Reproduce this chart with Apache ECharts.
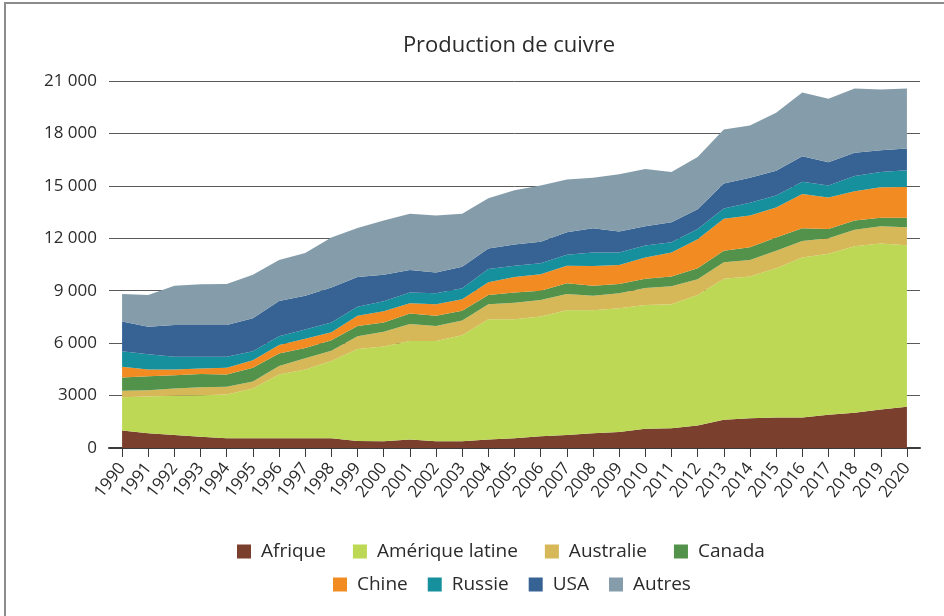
<!DOCTYPE html>
<html>
<head>
<meta charset="utf-8">
<script src="https://cdn.jsdelivr.net/npm/echarts@6/dist/echarts.min.js"></script>
<style>
  html, body { margin: 0; padding: 0; background: #fff; overflow: hidden; }
  .frame { position: absolute; left: 4px; top: 2px; width: 1000px; height: 700px;
           border-left: 2px solid #8c8c8c; border-top: 2px solid #8c8c8c; }
  #chart { position: absolute; left: 0; top: 0; width: 944px; height: 616px; }
</style>
</head>
<body>
<div class="frame"></div>
<div id="chart"></div>
<script>
// années
var years = ['1990', '1991', '1992', '1993', '1994', '1995', '1996', '1997', '1998', '1999',
             '2000', '2001', '2002', '2003', '2004', '2005', '2006', '2007', '2008', '2009',
             '2010', '2011', '2012', '2013', '2014', '2015', '2016', '2017', '2018', '2019', '2020'];

// production par région (milliers de tonnes)
var afrique = [1000, 850, 750, 640, 560, 560, 560, 560, 560, 400,
               390, 480, 390, 390, 480, 560, 670, 750, 850, 920,
               1100, 1130, 1290, 1620, 1700, 1740, 1740, 1900, 2020, 2210, 2360];
var ameriqueLatine = [1900, 2100, 2240, 2380, 2500, 2850, 3640, 3930, 4420, 5270,
                      5420, 5640, 5730, 6060, 6890, 6810, 6860, 7130, 7030, 7080,
                      7080, 7090, 7460, 8070, 8120, 8540, 9160, 9220, 9530, 9490, 9240];
var australie = [380, 360, 420, 450, 450, 390, 490, 650, 590, 720,
                 840, 980, 860, 840, 850, 940, 940, 930, 830, 860,
                 980, 1030, 900, 940, 940, 1010, 940, 880, 940, 990, 1030];
var canada = [760, 790, 750, 770, 700, 790, 720, 580, 590, 590,
              530, 590, 590, 570, 530, 590, 530, 620, 580, 530,
              530, 570, 630, 660, 730, 750, 730, 530, 530, 490, 550];
var chine = [610, 390, 330, 310, 380, 430, 490, 530, 470, 590,
             640, 590, 650, 650, 740, 880, 940, 1000, 1120, 1080,
             1210, 1370, 1660, 1830, 1820, 1720, 1960, 1810, 1670, 1740, 1760];
var russie = [880, 880, 730, 670, 630, 510, 490, 530, 550, 510,
              570, 620, 640, 630, 750, 650, 630, 630, 780, 720,
              690, 590, 590, 580, 730, 690, 710, 680, 880, 880, 960];
var usa = [1710, 1570, 1820, 1820, 1820, 1900, 2020, 1930, 2010, 1700,
           1530, 1290, 1180, 1230, 1170, 1220, 1230, 1280, 1380, 1200,
           1100, 1140, 1130, 1440, 1430, 1410, 1450, 1330, 1330, 1240, 1240];
var autres = [1570, 1810, 2250, 2330, 2350, 2490, 2350, 2450, 2850, 2810,
              3100, 3220, 3270, 3040, 2880, 3100, 3220, 3030, 2900, 3270,
              3270, 2880, 2990, 3080, 2980, 3330, 3650, 3630, 3670, 3470, 3430];

var yTicks = { 0: '0', 3000: '3000', 6000: '6 000', 9000: '9 000', 12000: '12 000',
               15000: '15 000', 18000: '18 000', 21000: '21 000' };

var seriesDefs = [
  { name: 'Afrique', data: afrique, color: '#7a3f2d' },
  { name: 'Amérique latine', data: ameriqueLatine, color: '#bdd855' },
  { name: 'Australie', data: australie, color: '#d6b858' },
  { name: 'Canada', data: canada, color: '#52924b' },
  { name: 'Chine', data: chine, color: '#f28c22' },
  { name: 'Russie', data: russie, color: '#15909c' },
  { name: 'USA', data: usa, color: '#366393' },
  { name: 'Autres', data: autres, color: '#859daa' }
];

var font = '"Open Sans", sans-serif';
var legendText = { fontFamily: font, fontSize: 19, color: '#2b2b2b', padding: [0, 0, 0, 5] };
var myChart = echarts.init(document.getElementById('chart'));

myChart.setOption({
  animation: false,
  color: seriesDefs.map(function (s) { return s.color; }),
  title: {
    text: 'Production de cuivre',
    left: 504,
    top: 30,
    textAlign: 'center',
    textStyle: { fontFamily: font, fontSize: 22, fontWeight: 'normal', color: '#2b2b2b' }
  },
  legend: [{
    data: ['Afrique', 'Amérique latine', 'Australie', 'Canada'],
    left: 232,
    top: 537,
    icon: 'rect',
    itemWidth: 14,
    itemHeight: 14,
    itemGap: 27,
    textStyle: legendText
  }, {
    data: ['Chine', 'Russie', 'USA', 'Autres'],
    left: 328,
    top: 570,
    icon: 'rect',
    itemWidth: 14,
    itemHeight: 14,
    itemGap: 20,
    textStyle: legendText
  }],
  grid: { left: 109, right: 24, top: 81, bottom: 168 },
  xAxis: {
    type: 'category',
    data: years,
    boundaryGap: true,
    axisLine: { show: true, lineStyle: { color: '#3a3a3a', width: 2 } },
    axisTick: { show: true, alignWithLabel: true, length: 9, lineStyle: { color: '#3a3a3a', width: 1 } },
    axisLabel: {
      interval: 0,
      rotate: 52,
      margin: 17,
      fontFamily: font,
      fontSize: 17,
      color: '#2b2b2b'
    },
    splitLine: { show: false }
  },
  yAxis: {
    type: 'value',
    min: 0,
    max: 21000,
    interval: 3000,
    axisLine: { show: false },
    axisTick: { show: false },
    axisLabel: {
      margin: 12,
      fontFamily: font,
      fontSize: 17,
      color: '#2b2b2b',
      formatter: function (v) { return yTicks[v]; }
    },
    splitLine: { lineStyle: { color: '#5a5a5a', width: 1 } }
  },
  series: seriesDefs.map(function (s) {
    return {
      name: s.name,
      type: 'line',
      stack: 'total',
      symbol: 'none',
      lineStyle: { width: 0 },
      areaStyle: { color: s.color, opacity: 1 },
      itemStyle: { color: s.color },
      data: s.data
    };
  })
});
</script>
</body>
</html>
